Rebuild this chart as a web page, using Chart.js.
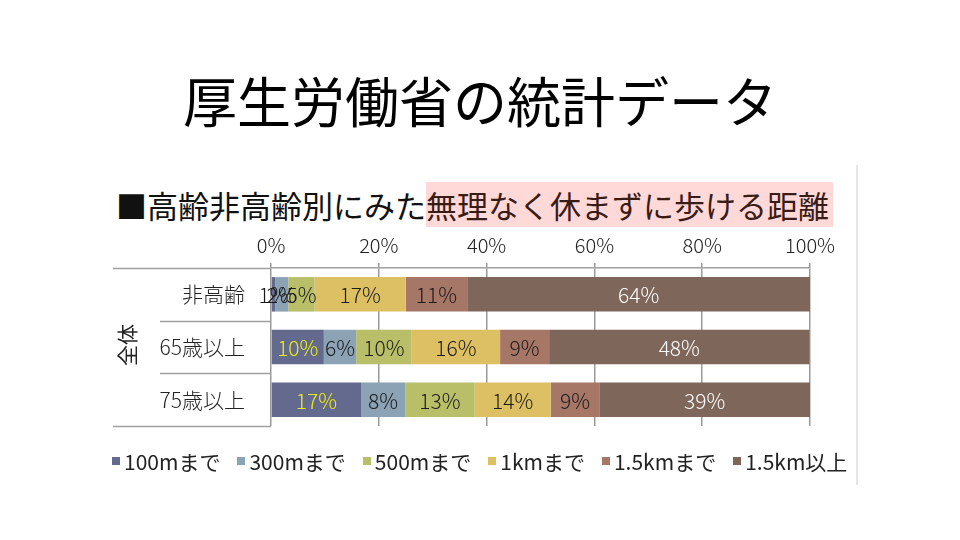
<!DOCTYPE html>
<html>
<head>
<meta charset="utf-8">
<script src="https://cdn.jsdelivr.net/npm/chart.js@4.4.0/dist/chart.umd.min.js"></script>
<style>
  html, body { margin: 0; padding: 0; }
  body { width: 960px; height: 540px; background: #fff; overflow: hidden; position: relative;
         font-family: "Noto Sans CJK JP", "Noto Sans", sans-serif; }
  #title { position: absolute; left: 0; top: 64px; width: 960px; text-align: center;
           font-size: 54px; line-height: 72px; color: #000; }
  #subtitle { position: absolute; left: 116px; top: 184px; font-size: 31px; line-height: 42px; color: #111;
              white-space: nowrap; }
  #subtitle .hl { background: #ffd8d8; color: #3a1c16; padding: 0 4px 0 0; }
  #frame { position: absolute; left: 856px; top: 165px; width: 2px; height: 320px; background: #e6e6e6; }
  #chartwrap { position: absolute; left: 0; top: 0; width: 960px; height: 540px; }
  #legend { position: absolute; left: 112px; top: 447px; display: flex; gap: 17px; white-space: nowrap;
            font-size: 21px; line-height: 28px; color: #222; }
  #legend .item { display: flex; align-items: center; }
  #legend .box { width: 8px; height: 8px; margin-right: 4px; }
</style>
</head>
<body>
<div id="title">厚生労働省の統計データ</div>
<div id="subtitle">■高齢非高齢別にみた<span class="hl">無理なく休まずに歩ける距離</span></div>
<div id="frame"></div>
<div id="chartwrap"><canvas id="c" width="960" height="540"></canvas></div>
<div id="legend"></div>
<script>
const categories = ['非高齢', '65歳以上', '75歳以上'];
const groupLabel = '全体';
const seriesNames = ['100mまで', '300mまで', '500mまで', '1kmまで', '1.5kmまで', '1.5km以上'];
const upTo100m  = [0.8,  9.8, 16.7];
const upTo300m  = [2.4,  6.0,  8.2];
const upTo500m  = [4.9, 10.3, 12.9];
const upTo1km   = [16.9, 16.4, 14.1];
const upTo15km  = [11.4,  9.1,  9.0];
const over15km  = [63.6, 48.3, 39.1];
const xTickValues = [0, 20, 40, 60, 80, 100];

const seriesColors = ['#636a8e', '#8ca2b5', '#b9bf69', '#ddc063', '#a67666', '#7e665b'];
const DARK = '#1a1a1a';
const labelColors  = [[DARK, '#eeee10', '#eeee10'], DARK, DARK, DARK, DARK, '#ffffff'];
const seriesData = [upTo100m, upTo300m, upTo500m, upTo1km, upTo15km, over15km];

const LBL_FONT = '"Noto Sans CJK JP", "Noto Sans", sans-serif';

const decoPlugin = {
  id: 'deco',
  afterDraw(chart) {
    const ctx = chart.ctx;
    const ca = chart.chartArea;
    const ys = chart.scales.y;
    ctx.save();
    ctx.strokeStyle = '#a0a0a0';
    ctx.lineWidth = 1.5;
    const n = categories.length;
    for (let i = 0; i <= n; i++) {
      let y;
      if (i === 0) y = ca.top;
      else if (i === n) y = ca.bottom;
      else y = (ys.getPixelForValue(i - 1) + ys.getPixelForValue(i)) / 2;
      const x0 = (i === 0 || i === n) ? 113 : 160;
      ctx.beginPath();
      ctx.moveTo(x0, Math.round(y) + 0.5);
      ctx.lineTo(ca.left, Math.round(y) + 0.5);
      ctx.stroke();
    }
    ctx.fillStyle = '#222';
    ctx.font = '400 21px ' + LBL_FONT;
    ctx.textAlign = 'center';
    ctx.textBaseline = 'middle';
    ctx.translate(127, (ca.top + ca.bottom) / 2 - 2);
    ctx.rotate(-Math.PI / 2);
    ctx.fillText(groupLabel, 0, 0);
    ctx.restore();

    ctx.save();
    ctx.font = '300 21px ' + LBL_FONT;
    ctx.textAlign = 'center';
    ctx.textBaseline = 'middle';
    chart.data.datasets.forEach((ds, di) => {
      const meta = chart.getDatasetMeta(di);
      meta.data.forEach((el, i) => {
        const v = ds.data[i];
        const cx = (el.x + el.base) / 2;
        const c = labelColors[di];
        ctx.fillStyle = Array.isArray(c) ? c[i] : c;
        ctx.fillText(Math.round(v) + '%', cx, el.y + 1);
      });
    });
    ctx.restore();
  }
};

new Chart(document.getElementById('c'), {
  type: 'bar',
  data: {
    labels: categories,
    datasets: seriesNames.map((name, i) => ({
      label: name,
      data: seriesData[i],
      backgroundColor: seriesColors[i],
      borderWidth: 0,
      categoryPercentage: 1.0,
      barPercentage: 0.655
    }))
  },
  options: {
    indexAxis: 'y',
    responsive: false,
    animation: false,
    devicePixelRatio: 1,
    layout: { padding: { top: 200, left: 0, right: 150, bottom: 114 } },
    plugins: { legend: { display: false }, tooltip: { enabled: false } },
    scales: {
      x: {
        position: 'top',
        stacked: true,
        min: 0, max: 100,
        afterBuildTicks(scale) { scale.ticks = xTickValues.map(v => ({ value: v })); },
        afterFit(scale) { scale.height = 68; },
        ticks: {
          callback: v => v + '%',
          font: { family: LBL_FONT, size: 20, weight: 300 },
          color: '#222',
          padding: 6,
          maxRotation: 0
        },
        grid: { color: '#9a9a9a', lineWidth: 1.5, tickLength: 5, drawTicks: true },
        border: { display: true, color: '#a0a0a0', width: 1.5 }
      },
      y: {
        stacked: true,
        afterFit(scale) { scale.width = 271; },
        ticks: {
          font: { family: LBL_FONT, size: 21, weight: 300 },
          color: '#222',
          padding: 18
        },
        grid: { display: false },
        border: { display: false }
      }
    }
  },
  plugins: [decoPlugin]
});

const lg = document.getElementById('legend');
seriesNames.forEach((name, i) => {
  const it = document.createElement('div');
  it.className = 'item';
  const b = document.createElement('span');
  b.className = 'box';
  b.style.background = seriesColors[i];
  const t = document.createElement('span');
  t.textContent = name;
  it.appendChild(b); it.appendChild(t);
  lg.appendChild(it);
});
</script>
</body>
</html>
